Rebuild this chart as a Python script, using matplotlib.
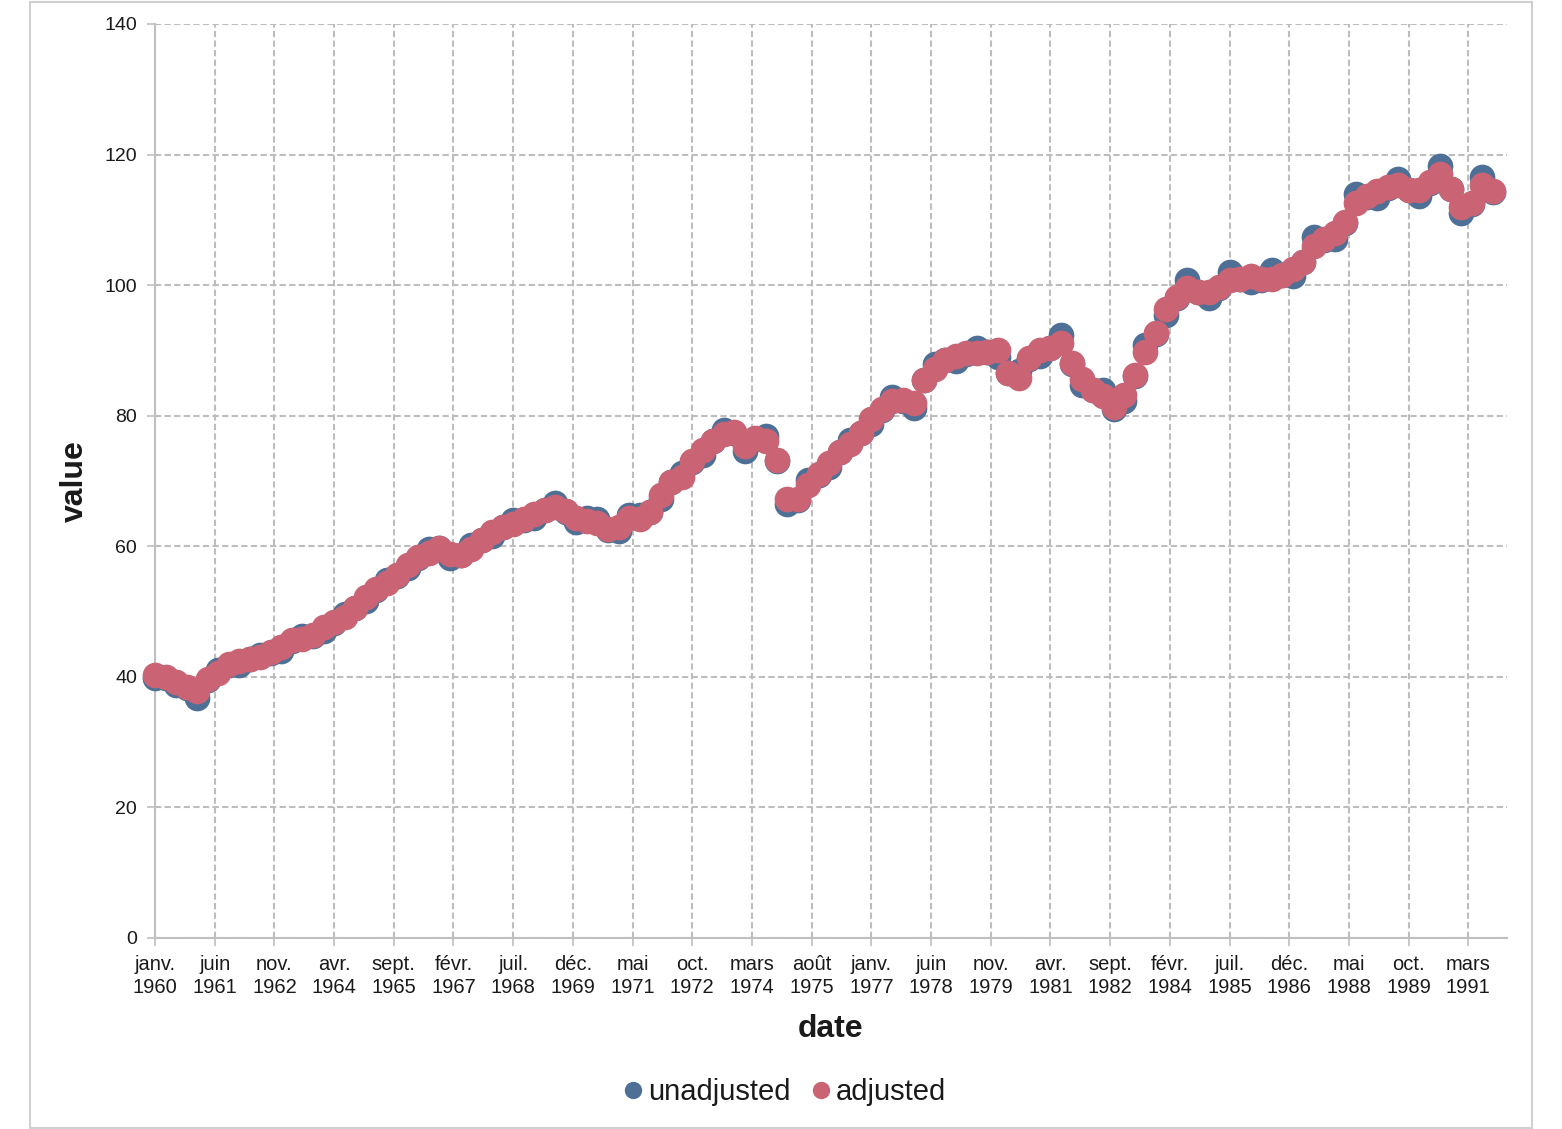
import matplotlib
matplotlib.use("Agg")
import matplotlib.pyplot as plt
from matplotlib.lines import Line2D
from matplotlib.patches import Rectangle
import numpy as np

plt.rcParams['font.family'] = ['Liberation Sans', 'DejaVu Sans']

# quarterly observations, starting janv. 1960
start_year = 1960
n_quarters = 128

adjusted = [
    40.3, 40.0, 39.2, 38.4, 37.8, 39.6, 40.6, 41.9, 42.4, 42.8,
    43.0, 43.8, 44.6, 45.6, 45.8, 46.4, 47.6, 48.4, 49.2, 50.6,
    52.2, 53.4, 54.3, 55.6, 57.2, 58.3, 59.0, 59.8, 58.8, 58.7,
    59.6, 61.0, 62.2, 63.0, 63.4, 64.2, 65.0, 65.6, 66.0, 65.4,
    64.3, 63.9, 63.6, 62.6, 63.0, 64.4, 64.2, 65.3, 67.8, 69.8,
    70.6, 73.0, 74.7, 76.2, 77.2, 77.5, 75.4, 76.6, 76.2, 73.2,
    67.3, 67.2, 69.4, 71.0, 72.8, 74.5, 75.6, 77.4, 79.5, 81.0,
    82.2, 82.4, 82.0, 85.5, 87.2, 88.6, 89.2, 89.6, 89.6, 89.8,
    90.0, 86.6, 85.8, 88.8, 90.0, 90.4, 91.2, 88.0, 85.6, 84.0,
    83.0, 81.4, 83.2, 86.2, 89.8, 92.6, 96.3, 98.2, 99.6, 99.0,
    99.0, 99.7, 100.8, 101.0, 101.4, 100.9, 101.0, 101.6, 102.4, 103.6,
    106.0, 107.0, 108.0, 109.6, 112.6, 113.6, 114.4, 115.0, 115.4, 114.6,
    114.6, 115.8, 117.0, 114.8, 112.0, 112.6, 115.4, 114.4,
]

unadjusted = [
    39.9, 39.9, 38.8, 38.3, 36.8, 39.5, 41.0, 41.8, 41.8, 42.7,
    43.4, 43.7, 44.0, 45.5, 46.3, 46.3, 47.0, 48.3, 49.7, 50.5,
    51.6, 53.3, 54.8, 55.5, 56.6, 58.2, 59.6, 59.7, 58.2, 58.6,
    60.2, 60.9, 61.6, 62.9, 64.0, 64.1, 64.4, 65.5, 66.6, 65.3,
    63.7, 64.4, 64.2, 62.5, 62.4, 64.8, 64.8, 65.2, 67.2, 69.8,
    71.2, 72.9, 74.0, 76.1, 77.8, 77.4, 74.6, 76.5, 76.9, 73.1,
    66.5, 67.1, 70.1, 70.9, 72.1, 74.4, 76.3, 77.3, 78.8, 80.9,
    82.9, 82.3, 81.2, 85.4, 87.9, 88.5, 88.4, 89.5, 90.3, 89.7,
    89.0, 86.5, 86.8, 88.7, 89.1, 90.3, 92.3, 87.9, 84.7, 83.9,
    84.0, 81.0, 82.3, 86.1, 90.9, 92.5, 95.4, 98.1, 100.8, 98.9,
    98.0, 99.6, 102.0, 100.9, 100.5, 100.8, 102.3, 101.5, 101.4, 103.5,
    107.3, 106.9, 107.0, 109.5, 113.9, 113.5, 113.4, 114.9, 116.3, 114.5,
    113.6, 115.7, 118.3, 114.7, 111.0, 112.5, 116.5, 114.3,
]

month_names = ['janv.', 'févr.', 'mars', 'avr.', 'mai', 'juin',
               'juil.', 'août', 'sept.', 'oct.', 'nov.', 'déc.']
tick_step_months = 17
y_ticks = [0, 20, 40, 60, 80, 100, 120, 140]

series_names = ['unadjusted', 'adjusted']
colors = ['#4f7096', '#ca6474']

# x in months since janv. 1960
x = np.arange(n_quarters) * 3

W, H = 1562, 1129
fig = plt.figure(figsize=(W / 100, H / 100), dpi=100)
ax = fig.add_axes([155 / W, 1 - 938 / H, (1507 - 155) / W, (938 - 24) / H])

ms = 18.5
ax.plot(x, unadjusted, linestyle='none', marker='o', markersize=ms,
        color=colors[0], markeredgewidth=0, zorder=3, clip_on=False)
ax.plot(x, adjusted, linestyle='none', marker='o', markersize=ms,
        color=colors[1], markeredgewidth=0, zorder=4, clip_on=False)

ax.set_xlim(0, 385)
ax.set_ylim(0, 140)

tick_pos = np.arange(0, 375, tick_step_months)
tick_labels = [f"{month_names[m % 12]}\n{start_year + m // 12}" for m in tick_pos]
ax.set_xticks(tick_pos)
ax.set_xticklabels(tick_labels, fontsize=14.5, color='#1a1a1a', linespacing=1.3)
ax.set_yticks(y_ticks)
ax.set_yticklabels([str(v) for v in y_ticks], fontsize=14, color='#1a1a1a')

ax.tick_params(axis='both', which='major', length=6, width=1.2, color='#bfbfbf')
ax.tick_params(axis='x', pad=6)
ax.tick_params(axis='y', pad=7)

ax.grid(True, color='#bdbdbd', linestyle=(0, (3, 1.6)), linewidth=1.5, zorder=0)
ax.set_axisbelow(True)

for s in ['top', 'right']:
    ax.spines[s].set_visible(False)
ax.spines['left'].set_color('#c0c0c0')
ax.spines['left'].set_linewidth(1.5)
ax.spines['bottom'].set_color('#c0c0c0')
ax.spines['bottom'].set_linewidth(1.5)

ax.set_xlabel('date', fontsize=23, fontweight='bold', color='#1a1a1a', labelpad=12)
ax.set_ylabel('value', fontsize=23, fontweight='bold', color='#1a1a1a', labelpad=10)

handles = [Line2D([0], [0], linestyle='none', marker='o', markersize=12.5,
                  color=c, markeredgewidth=0) for c in colors]
fig.legend(handles, series_names, loc='center',
           bbox_to_anchor=(783 / W, 1 - 1092 / H), ncol=2, frameon=False,
           fontsize=21, handletextpad=0.05, columnspacing=0.6,
           handlelength=0.9, labelcolor='#1a1a1a')

fig.patches.append(Rectangle((30 / W, 1 / H), (1532 - 30) / W, (1127 - 1) / H,
                             transform=fig.transFigure, fill=False,
                             edgecolor='#d0d0d0', linewidth=1.5))

fig.savefig('out.png', dpi=100)
